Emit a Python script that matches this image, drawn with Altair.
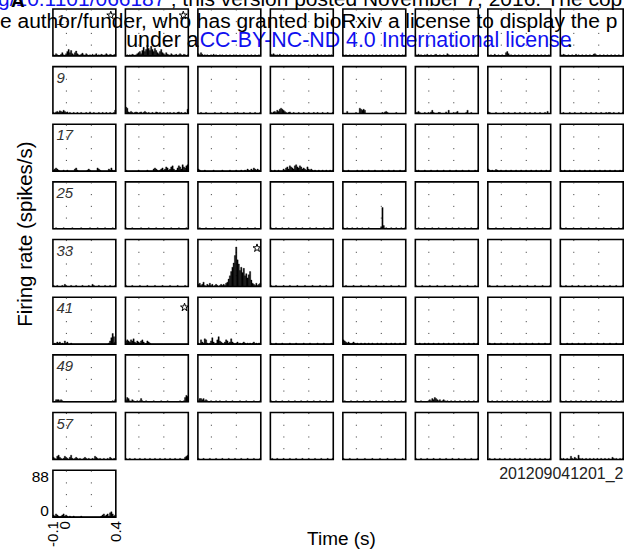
import altair as alt
import pandas as pd

# ---------------- data ----------------
BIN = 0.01
bin_t = [round(-0.10 + 0.01 * i, 2) for i in range(50)]

p01 = [2,0,4,2,0,0,3,6,2,0, 4,8,12,6,10,4,2,6,9,4, 2,0,3,5,2,0,4,2,0,2, 0,3,0,2,4,0,2,0,3,2, 0,2,4,2,0,3,2,0,2,3]
p02 = [0,2,0,2,0,3,2,0,2,4, 6,8,4,10,16,8,12,20,14,10, 18,12,8,14,10,6,4,8,12,6, 4,2,6,3,2,0,4,2,0,2, 3,0,2,4,2,0,3,2,0,2]
p03 = [4,2,6,3,0,2,0,2,0,0, 2,0,3,0,2,0,0,2,0,2, 0,0,2,0,0,2,0,0,2,0, 2,0,0,2,0,0,2,0,0,2, 0,0,2,0,0,2,0,0,2,0]
p04 = [3,2,4,2,0,2,0,3,0,0, 2,0,0,2,0,0,2,0,0,2, 0,0,2,0,0,2,0,0,2,0, 0,2,0,0,2,0,0,3,0,0, 2,0,0,2,0,0,2,0,2,0]
p05 = [2,0,2,0,0,2,0,0,2,0, 0,2,0,0,2,0,0,2,0,0, 2,0,0,2,0,0,2,0,0,2, 0,0,2,0,0,2,0,0,2,0, 0,2,0,0,2,0,0,2,0,2]
p06 = [2,0,3,0,2,0,0,2,0,3, 0,0,2,0,0,2,3,0,0,2, 0,0,2,0,0,4,2,0,0,2, 0,0,2,0,0,2,0,0,2,0, 0,2,0,0,2,0,0,2,0,2]
p07 = [2,0,2,0,0,3,0,0,2,0, 0,2,0,0,6,8,4,0,2,0, 0,2,0,0,2,0,0,2,0,0, 2,0,0,2,0,0,2,0,0,2, 0,0,2,0,0,2,0,0,2,0]
p08 = [2,0,3,2,0,0,2,0,0,2, 0,0,3,0,2,0,0,2,0,0, 2,0,0,2,0,0,3,4,2,0, 0,2,0,0,2,0,0,2,0,0, 2,0,0,2,0,0,2,0,0,2]

p09 = [2,0,3,4,2,5,4,3,6,4, 2,3,0,2,0,0,2,0,0,2, 0,0,2,0,0,0,2,0,0,3, 0,0,2,0,0,0,2,0,0,2, 0,0,2,0,0,2,0,0,2,6]
p10 = [12,10,3,2,4,2,0,2,3,2, 0,2,3,0,2,4,2,0,2,0, 0,2,0,0,3,2,0,2,0,0, 2,0,0,2,0,2,0,0,2,0, 0,2,3,0,2,0,0,2,0,8]
p11 = [0,0,2,0,0,0,2,0,0,0, 0,0,0,2,0,0,0,0,2,0, 0,0,0,2,0,0,0,0,0,2, 0,2,0,0,0,0,2,0,0,0, 0,2,0,0,0,2,0,0,0,2]
p12 = [2,0,3,4,2,6,4,8,10,8, 6,4,2,0,2,3,0,0,2,0, 0,0,2,0,0,0,2,0,0,0, 2,0,0,0,2,0,0,2,0,0, 0,2,0,0,0,2,0,0,0,2]
p13 = [0,0,0,4,0,0,0,0,0,0, 2,0,0,10,8,6,8,6,0,0, 0,0,0,0,0,0,0,0,0,0, 0,2,0,3,4,2,0,0,0,0, 0,0,2,0,0,0,0,0,0,0]
p14 = [2,2,4,2,0,0,0,2,0,0, 2,0,3,6,2,0,0,0,2,2, 0,0,0,0,3,0,6,0,0,0, 2,0,2,4,0,0,0,0,0,0, 2,6,0,0,2,0,0,0,0,0]
p15 = [3,2,0,0,0,0,2,0,0,0, 0,0,2,0,0,0,2,0,0,0, 0,2,0,0,0,2,0,0,0,2, 0,0,0,2,0,0,0,2,0,0, 0,2,0,0,0,2,0,4,0,0]
p16 = [0,0,2,0,0,0,0,2,0,0, 0,2,0,0,0,0,2,0,0,0, 2,0,0,0,2,0,0,0,2,0, 0,0,2,0,0,0,2,0,2,2, 0,0,2,0,0,0,2,0,0,2]

p17 = [2,4,6,4,2,0,0,0,2,0, 0,2,0,0,0,0,0,4,6,2, 0,0,0,0,0,0,0,2,4,2, 0,0,0,0,0,6,4,2,0,0, 0,0,0,0,4,2,6,2,0,2]
p18 = [2,0,0,0,0,0,0,0,0,0, 2,0,0,0,0,0,0,2,0,0, 0,0,4,6,4,2,0,2,4,6, 2,4,8,6,2,4,8,10,4,0, 2,6,10,8,4,12,8,6,10,12]
p19 = [4,2,0,0,0,2,0,0,0,0, 0,0,2,0,0,0,0,0,0,2, 0,0,0,0,0,2,0,0,0,0, 2,0,0,0,2,0,0,2,0,4, 2,0,4,2,6,4,2,4,2,2]
p20 = [2,0,0,2,0,0,2,0,0,0, 4,2,6,8,4,10,8,6,4,10, 12,8,6,10,8,4,6,4,2,8, 4,2,4,2,0,2,0,0,2,0, 0,2,0,0,2,0,0,2,0,2]
p21 = [2,0,0,0,2,0,0,0,0,0, 0,2,0,0,0,2,0,0,0,0, 2,0,0,0,0,2,0,0,0,0, 0,2,0,0,0,0,2,0,0,0, 2,0,0,0,0,2,0,0,0,2]
p22 = [2,0,2,0,0,0,0,2,0,0, 0,0,2,0,0,0,0,2,0,0, 0,0,2,0,0,0,0,2,0,0, 0,0,2,0,0,0,0,2,0,0, 0,0,2,0,0,0,0,2,0,2]
p23 = [4,2,0,2,0,0,3,2,0,0, 2,0,0,0,2,0,0,0,2,0, 0,0,2,0,0,0,2,0,0,0, 2,0,0,0,2,0,0,0,2,0, 0,0,2,0,0,0,2,0,0,2]
p24 = [2,0,0,2,0,0,0,2,0,0, 0,2,0,0,0,2,0,0,0,2, 0,0,0,2,0,0,0,2,0,0, 0,2,0,0,0,2,0,0,0,2, 0,0,0,2,0,0,0,2,0,2]

p25 = [0,0,2,0,0,0,0,0,2,0, 0,0,0,0,0,2,0,0,0,0, 0,0,2,0,0,0,0,0,0,2, 0,0,0,0,0,2,0,0,0,0, 0,2,0,0,0,0,0,2,0,0]
p26 = [2,0,0,0,0,2,0,0,0,0, 0,0,2,0,0,0,0,0,2,0, 0,0,0,0,2,0,0,0,0,0, 2,0,0,0,0,0,2,0,0,0, 0,0,2,0,0,0,0,0,2,0]
p27 = [0,2,0,0,0,0,2,0,0,0, 0,0,0,2,0,0,0,0,0,0, 2,0,0,0,0,0,0,2,0,0, 0,0,0,2,0,0,0,0,0,2, 0,0,0,0,0,2,0,0,0,0]
p28 = [2,0,0,0,2,0,0,0,0,2, 0,0,0,0,2,0,0,0,0,0, 2,0,0,0,0,2,0,0,0,0, 0,2,0,0,0,0,2,0,0,0, 0,0,2,0,0,0,0,2,0,0]
p29 = [2,0,0,2,0,0,0,2,0,0, 0,2,0,0,0,2,0,0,0,0, 2,0,0,0,0,0,0,0,0,0, 4,40,6,0,2,0,0,0,2,0, 0,0,2,0,0,0,2,0,0,2]
p30 = [0,0,2,0,0,0,0,2,0,0, 0,0,0,2,0,0,0,0,2,0, 0,0,0,0,2,0,0,0,0,2, 0,0,0,0,2,0,0,0,0,2, 0,0,0,0,2,0,0,0,0,2]
p31 = [2,0,0,0,0,0,2,0,0,0, 0,0,2,0,0,0,0,0,2,0, 0,0,0,0,0,2,0,0,0,0, 0,2,0,0,0,0,0,2,0,0, 0,0,0,2,0,0,0,0,0,2]
p32 = [2,0,0,0,2,0,0,0,0,0, 2,0,0,0,0,0,2,0,0,0, 0,0,2,0,0,0,0,0,2,0, 0,0,0,0,2,0,0,0,0,0, 2,0,0,0,0,0,2,0,0,2]

p33 = [2,0,0,2,0,0,0,2,0,4, 2,0,0,0,2,0,0,0,2,0, 0,0,0,2,0,0,0,0,2,0, 0,4,2,0,0,0,2,0,0,0, 0,2,0,0,0,2,0,0,0,2]
p34 = [2,0,0,0,0,2,0,0,0,0, 0,2,0,0,0,0,0,2,0,0, 0,0,0,2,0,0,0,0,0,2, 0,0,0,0,0,2,0,0,0,0, 0,2,0,0,0,0,0,2,0,0]
p35 = [4,6,2,4,8,2,0,4,2,6, 2,4,0,2,4,2,0,2,4,2, 4,2,6,8,14,20,28,36,44,58, 74,50,42,30,36,26,34,20,24,16, 22,28,12,6,4,2,6,2,4,6]
p36 = [2,0,0,0,2,0,0,0,0,0, 2,0,0,0,0,2,0,0,0,0, 0,2,0,0,0,0,0,2,0,0, 0,0,0,2,0,0,0,0,0,2, 0,0,0,0,2,0,0,0,0,2]
p37 = [0,0,2,0,0,0,0,0,2,0, 0,0,0,0,2,0,0,0,0,0, 2,0,0,0,0,0,2,0,0,0, 0,0,2,0,0,0,0,0,2,0, 0,0,0,0,2,0,0,0,0,0]
p38 = [2,0,0,0,0,2,0,0,0,0, 0,2,0,0,0,0,0,2,0,0, 0,0,0,2,0,0,0,0,0,2, 0,0,0,0,0,2,0,0,0,0, 0,2,0,0,0,0,0,2,0,0]
p39 = [0,2,0,0,0,0,0,2,0,0, 0,0,0,2,0,0,0,0,0,2, 0,0,0,0,0,2,0,0,0,0, 0,2,0,0,0,0,0,2,0,0, 0,0,0,2,0,0,0,0,0,2]
p40 = [2,0,0,0,2,0,0,0,0,2, 0,0,0,0,2,0,0,0,0,2, 0,0,0,0,2,0,0,0,0,2, 0,0,0,0,2,0,0,0,0,2, 0,0,0,0,2,0,0,0,0,2]

p41 = [0,2,0,4,2,4,0,2,0,6, 2,4,0,0,2,0,0,0,0,0, 0,0,0,0,0,0,0,0,0,0, 0,0,0,0,0,0,0,0,0,0, 0,0,0,0,2,6,12,20,14,4]
p42 = [6,8,6,4,8,6,10,4,2,6, 4,2,6,8,4,0,2,6,4,2, 0,0,0,0,0,0,0,0,0,0, 0,0,0,0,0,0,0,0,0,0, 0,0,0,0,0,0,0,0,0,0]
p43 = [2,0,8,4,2,10,8,2,0,2, 6,12,4,0,2,8,14,6,4,2, 0,4,8,6,2,4,10,4,2,0, 2,4,0,2,0,2,4,2,0,2, 0,2,0,2,4,0,2,0,2,2]
p44 = [2,0,0,0,2,0,0,0,0,2, 0,0,0,0,0,2,0,0,0,0, 2,0,0,0,0,0,2,0,0,0, 0,2,0,0,0,0,0,2,0,0, 0,0,2,0,0,0,0,0,2,0]
p45 = [8,6,4,2,4,2,0,2,4,2, 0,2,0,0,2,0,0,2,0,0, 2,0,0,2,0,0,0,2,0,0, 2,0,0,0,2,0,0,0,2,0, 0,2,0,0,0,2,0,0,2,0]
p46 = [2,0,0,2,0,0,0,2,0,0, 2,0,0,0,2,0,0,0,2,0, 0,0,2,0,0,0,2,0,0,0, 2,0,0,0,2,0,0,0,2,0, 0,0,2,0,0,0,2,0,0,2]
p47 = [0,2,0,0,0,2,0,0,0,0, 2,0,0,0,0,2,0,0,0,0, 2,0,0,0,0,2,0,0,0,0, 2,0,0,0,0,2,0,0,0,0, 2,0,0,0,0,2,0,0,0,2]
p48 = [2,0,0,0,0,2,0,0,0,2, 0,0,0,0,2,0,0,0,0,2, 0,0,0,0,2,0,0,0,0,2, 0,0,0,0,2,0,0,0,0,2, 0,0,0,0,2,0,0,0,0,2]

p49 = [0,0,4,4,4,2,4,2,0,0, 0,0,0,0,0,0,0,0,0,0, 0,0,0,0,0,0,0,0,0,0, 0,0,0,0,0,0,0,0,0,0, 0,0,0,0,0,0,0,2,0,4]
p50 = [4,8,6,2,0,4,2,0,0,2, 0,2,6,2,0,0,2,0,0,0, 0,0,2,0,0,0,0,0,2,0, 0,0,0,2,0,0,0,0,0,0, 0,0,0,2,0,0,2,8,12,10]
p51 = [2,6,6,4,6,2,4,2,0,0, 2,0,0,0,2,0,0,2,0,0, 0,0,2,0,0,0,0,2,0,0, 0,0,0,2,0,0,0,0,2,0, 0,0,0,0,2,0,0,0,0,2]
p52 = [2,0,0,0,2,0,0,0,0,2, 0,0,0,0,2,0,0,0,0,2, 0,0,0,0,2,0,0,0,0,2, 0,0,0,0,2,0,0,0,0,2, 0,0,0,0,2,0,0,0,0,2]
p53 = [0,2,0,0,0,0,2,0,0,0, 0,2,0,0,0,0,2,0,0,0, 0,2,0,0,0,0,2,0,0,0, 0,2,0,0,0,0,2,0,0,0, 0,2,0,0,0,0,2,0,0,2]
p54 = [2,0,0,0,2,0,0,0,0,0, 2,4,2,6,4,8,6,4,2,4, 0,2,4,2,0,2,0,0,2,0, 0,2,0,0,0,2,0,0,0,2, 0,0,2,0,0,0,2,0,0,2]
p55 = [2,0,0,2,0,0,0,2,0,0, 0,2,0,0,0,2,0,0,0,2, 0,0,0,2,0,0,0,2,0,0, 0,2,0,0,0,2,0,0,0,2, 0,0,0,2,0,0,0,2,0,2]
p56 = [2,0,0,0,2,0,0,0,2,0, 0,0,2,0,0,0,2,0,0,0, 2,0,0,0,2,0,0,0,2,0, 0,0,2,0,0,0,2,0,0,0, 2,0,0,0,2,0,0,0,2,0]

p57 = [4,2,0,6,8,4,2,0,2,6, 4,2,0,4,8,2,0,2,4,2, 0,2,0,0,2,4,2,0,2,0, 0,2,0,6,4,2,0,2,0,0, 2,0,0,2,0,4,2,0,2,2]
p58 = [2,0,0,2,0,0,0,2,0,0, 0,2,0,0,0,2,0,0,0,2, 0,0,0,2,0,0,0,2,0,0, 0,2,0,0,0,2,0,0,0,2, 0,0,0,2,0,0,0,4,6,8]
p59 = [2,0,0,0,2,0,0,0,0,2, 0,0,0,0,2,0,0,0,0,2, 0,0,0,0,2,0,0,0,0,2, 0,0,0,0,2,0,0,0,0,2, 0,0,0,0,2,0,0,0,0,2]
p60 = [0,2,0,0,0,2,0,0,0,0, 2,0,0,0,0,2,0,0,0,0, 2,0,0,0,0,2,0,0,0,0, 2,0,0,0,0,2,0,0,0,0, 2,0,0,0,0,2,0,0,0,2]
p61 = [2,0,0,0,0,2,0,0,0,0, 0,2,0,0,0,0,0,2,0,0, 0,0,0,2,0,0,0,0,0,2, 0,0,0,0,0,2,0,0,0,0, 0,2,0,0,0,0,0,2,0,0]
p62 = [2,0,0,0,2,0,0,0,0,2, 0,0,0,0,2,0,0,0,0,2, 0,0,0,0,2,0,0,0,0,2, 0,0,0,0,2,0,0,0,0,2, 0,0,0,0,2,0,0,0,0,2]
p63 = [0,2,0,0,0,2,0,0,0,2, 0,0,0,2,0,0,0,2,0,0, 0,2,0,0,0,2,0,0,0,2, 0,0,0,2,0,0,0,2,0,0, 0,2,0,0,0,2,0,0,0,2]
p64 = [2,0,2,0,0,2,0,0,6,2, 0,4,2,0,8,2,0,2,0,0, 2,0,0,2,0,0,2,0,0,2, 0,0,2,0,0,2,0,0,2,0, 0,4,2,0,2,0,0,2,0,2]

p65 = [4,2,6,4,2,0,2,4,6,2, 4,2,0,2,0,0,2,0,0,0, 0,0,2,0,0,0,0,0,0,0, 0,0,0,0,0,0,0,0,2,4, 6,2,4,6,2,8,10,6,2,4]

panels = [p01, p02, p03, p04, p05, p06, p07, p08,
          p09, p10, p11, p12, p13, p14, p15, p16,
          p17, p18, p19, p20, p21, p22, p23, p24,
          p25, p26, p27, p28, p29, p30, p31, p32,
          p33, p34, p35, p36, p37, p38, p39, p40,
          p41, p42, p43, p44, p45, p46, p47, p48,
          p49, p50, p51, p52, p53, p54, p55, p56,
          p57, p58, p59, p60, p61, p62, p63, p64,
          p65]

label_panels = [1, 9, 17, 25, 33, 41, 49, 57]
star_panels = [1, 2, 35, 42]
star_t = [0.36, 0.36, 0.37, 0.37]
star_rate = [76, 76, 72, 69]

AXIS_PANEL = 65
y_ticks = [88, 0]
y_tick_labels = ['88', '0']
x_ticks = [-0.1, 0, 0.4]
x_tick_labels = ['-0.1', '0', '0.4']
grid_t = [0, 0.2]

texts = {
    'doi': 'g/10.1101/066187',
    'posted': '; this version posted November 7, 2016. The cop',
    'fig': 'A',
    'line2': 'e author/funder, who has granted bioRxiv a license to display the p',
    'under': 'under a',
    'cc': 'CC-BY-NC-ND 4.0 International license',
    'dot': '.',
    'ytitle': 'Firing rate (spikes/s)',
    'xtitle': 'Time (s)',
    'runid': '201209041201_2',
    'frame': '',
}

# ---------------- build table ----------------
records = []
for k, vals in enumerate(panels, start=1):
    for t, v in zip(bin_t, vals):
        records.append({'panel': k, 'kind': 'bar', 't': t, 't2': round(t + BIN, 3), 'rate': v, 'label': ''})
for k in label_panels:
    records.append({'panel': k, 'kind': 'plabel', 't': 0, 't2': 0, 'rate': 0, 'label': str(k)})
for k, t, r in zip(star_panels, star_t, star_rate):
    records.append({'panel': k, 'kind': 'star', 't': t, 't2': t, 'rate': r, 'label': ''})
records.append({'panel': AXIS_PANEL, 'kind': 'ytop', 't': -0.1, 't2': 0, 'rate': y_ticks[0], 'label': y_tick_labels[0]})
records.append({'panel': AXIS_PANEL, 'kind': 'ybot', 't': -0.1, 't2': 0, 'rate': y_ticks[1], 'label': y_tick_labels[1]})
for t, s in zip(x_ticks, x_tick_labels):
    records.append({'panel': AXIS_PANEL, 'kind': 'xtick', 't': t, 't2': t, 'rate': 0, 'label': s})
for key, s in texts.items():
    records.append({'panel': 1, 'kind': key, 't': 0, 't2': 0, 'rate': 0, 'label': s})
df = pd.DataFrame(records)

FONT = 'Liberation Sans'
W, H = 63, 47
STAR = ('M0,-1L0.2245,-0.309L0.9511,-0.309L0.3633,0.118L0.5878,0.809L0,0.382'
        'L-0.5878,0.809L-0.3633,0.118L-0.9511,-0.309L-0.2245,-0.309Z')
BLUE = '#1010f0'
x_scale = alt.Scale(domain=[-0.1, 0.4], nice=False, zero=False)
y_scale = alt.Scale(domain=[0, 88], nice=False, zero=True)


def only(kind):
    return "datum.kind == '%s'" % kind


bars = alt.Chart().mark_rect(color='black', stroke='black', strokeWidth=0.35).encode(
    x=alt.X('t:Q', scale=x_scale,
            axis=alt.Axis(values=grid_t, grid=True, gridDash=[1, 10.75], gridColor='#333',
                          gridWidth=1, labels=False, ticks=False, domain=False, title=None)),
    x2='t2:Q',
    y=alt.Y('rate:Q', scale=y_scale, axis=None),
    y2=alt.datum(0),
).transform_filter(only('bar'))

plabels = alt.Chart().mark_text(font=FONT, fontStyle='italic', fontSize=15, color='#333',
                                align='left', baseline='alphabetic').encode(
    x=alt.value(3.5), y=alt.value(16), text='label:N'
).transform_filter(only('plabel'))

stars = alt.Chart().mark_point(shape=STAR, filled=False, color='black', size=70,
                               strokeWidth=1, opacity=1).encode(
    x=alt.X('t:Q', scale=x_scale), y=alt.Y('rate:Q', scale=y_scale, axis=None)
).transform_filter(only('star'))

ytop = alt.Chart().mark_text(font=FONT, fontSize=15.5, color='black', align='right',
                             baseline='top', dx=-4, dy=0).encode(
    x=alt.X('t:Q', scale=x_scale), y=alt.Y('rate:Q', scale=y_scale, axis=None), text='label:N'
).transform_filter(only('ytop'))
ybot = alt.Chart().mark_text(font=FONT, fontSize=15.5, color='black', align='right',
                             baseline='bottom', dx=-4, dy=2).encode(
    x=alt.X('t:Q', scale=x_scale), y=alt.Y('rate:Q', scale=y_scale, axis=None), text='label:N'
).transform_filter(only('ybot'))
xtick = alt.Chart().mark_text(font=FONT, fontSize=15, color='black', align='right',
                              baseline='middle', angle=270).encode(
    x=alt.X('t:Q', scale=x_scale), y=alt.value(H + 4), text='label:N'
).transform_filter(only('xtick'))

# invisible guide that fixes the figure's outer extent (page corner)
frame = alt.Chart().mark_rule(opacity=0).encode(
    x=alt.value(-60), x2=alt.value(600), y=alt.value(-40)
).transform_filter(only('frame'))


# free texts, positioned relative to the top-left corner of panel 1
def ann(kind, x, y, size=21, color='black', align='left', angle=0, weight='normal',
        baseline='alphabetic'):
    return alt.Chart().mark_text(font=FONT, fontSize=size, color=color, align=align, angle=angle,
                                 fontWeight=weight, baseline=baseline).encode(
        x=alt.value(x), y=alt.value(y), text='label:N'
    ).transform_filter(only(kind))


annots = [
    ann('doi', -55, -2.5, color=BLUE),
    ann('posted', 118, -2.5),
    ann('fig', -42, -1.5, size=19, weight='bold'),
    ann('line2', -53, 19.5),
    ann('under', 146, 38.5, size=21.4, align='right'),
    ann('cc', 147, 38.5, size=21.4, color=BLUE),
    ann('dot', 515, 38.5, size=21.4),
    ann('ytitle', -27, 225.5, size=20.5, angle=270, align='center', baseline='middle'),
    ann('xtitle', 289, 530.5, size=19, align='center', baseline='middle'),
    ann('runid', 571.5, 470.5, size=16, align='right', color='#222'),
]

no_header = alt.Header(labels=False, title=None, labelExpr="''", labelFontSize=1,
                       labelPadding=0, titlePadding=0)

grid = alt.layer(frame, bars, plabels, stars, ytop, ybot, xtick, *annots, data=df).properties(
    width=W, height=H
).facet(
    facet=alt.Facet('panel:O', title=None, header=no_header),
    columns=8, spacing={'row': 10.75, 'column': 9.6}, bounds='flush'
)

chart = grid.properties(
    padding={'left': -8, 'top': -33.5, 'right': -27, 'bottom': 0}
).configure_header(
    labels=False, labelExpr="''", labelFontSize=1, labelPadding=0, titlePadding=0
).configure_view(stroke='black', strokeWidth=1.6)

chart.save('out.html', embed_options={'renderer': 'svg', 'actions': False})
